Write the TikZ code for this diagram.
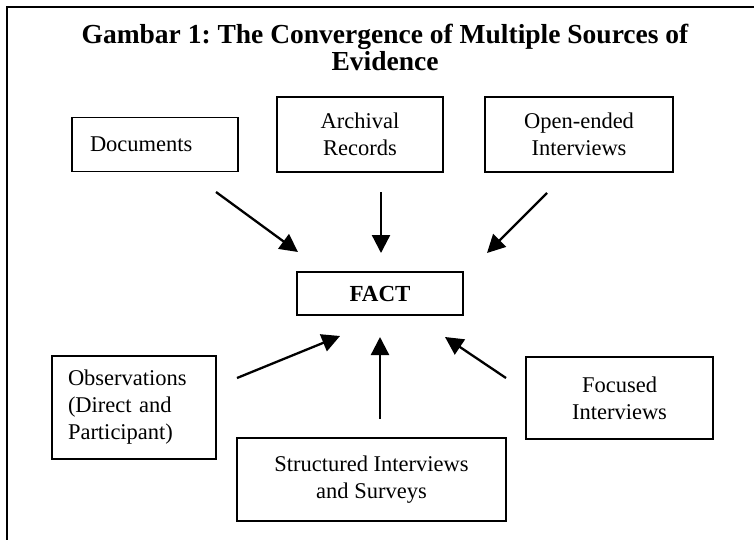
\documentclass[tikz,border=0pt]{standalone}
\usepackage{fontspec}
\setmainfont{Liberation Serif}
\usetikzlibrary{arrows.meta}
\tikzset{
  srcbox/.style={draw=black, line width=1.8pt, inner sep=0pt, font=\fontsize{22.5}{27}\selectfont},
  conn/.style={line width=2.3pt, -{Triangle[length=18pt,width=18pt]}},
}
\begin{document}
\frenchspacing
\begin{tikzpicture}[x=1pt,y=-1pt]
\useasboundingbox (0,0) rectangle (754,539);
\fill[white] (0,0) rectangle (754,539);
% frame
\coordinate (ftl) at (7,7);
\coordinate (fbl) at (7,545);
\coordinate (ftr) at (760,7);
\draw[line width=1.8pt] (fbl) -- (ftl) -- (ftr);
% title
\node[anchor=north, inner sep=0pt, align=center, font=\fontsize{27.5}{27}\selectfont\bfseries] (title) at (385,24)
  {Gambar 1: The Convergence of Multiple Sources of\\Evidence};
% boxes
\node[srcbox, minimum width=166pt, minimum height=54pt, text width=130pt, align=left] (doc) at (155,144.5) {Documents};
\node[srcbox, minimum width=166pt, minimum height=75pt, align=center] (arc) at (360,134.5) {Archival\\Records};
\node[srcbox, minimum width=188pt, minimum height=75pt, align=center] (open) at (579,134.5) {Open-ended\\Interviews};
\node[srcbox, minimum width=166pt, minimum height=43pt, font=\fontsize{23}{27}\selectfont\bfseries] (fact) at (380,293.5) {FACT};
\node[srcbox, minimum width=164pt, minimum height=103pt, text width=132pt, align=left] (obs) at (134,407.5) {Observations\\(Direct and\\Participant)};
\node[srcbox, minimum width=269pt, minimum height=83pt, align=center] (str) at (371.5,479.5) {Structured Interviews\\and Surveys};
\node[srcbox, minimum width=187pt, minimum height=82pt, align=center] (foc) at (619.5,398) {Focused\\Interviews};
% arrow end points
\coordinate (docS) at (216,192);
\coordinate (docE) at (298,252);
\coordinate (arcS) at (381,192);
\coordinate (arcE) at (381,253);
\coordinate (openS) at (547,193);
\coordinate (openE) at (487,253);
\coordinate (obsS) at (237,378);
\coordinate (obsE) at (340,336);
\coordinate (strS) at (380,419);
\coordinate (strE) at (380,337);
\coordinate (focS) at (506,378);
\coordinate (focE) at (445,337);
\draw[conn] (docS) -- (docE);
\draw[conn] (arcS) -- (arcE);
\draw[conn] (openS) -- (openE);
\draw[conn] (obsS) -- (obsE);
\draw[conn] (strS) -- (strE);
\draw[conn] (focS) -- (focE);
\end{tikzpicture}
\end{document}
